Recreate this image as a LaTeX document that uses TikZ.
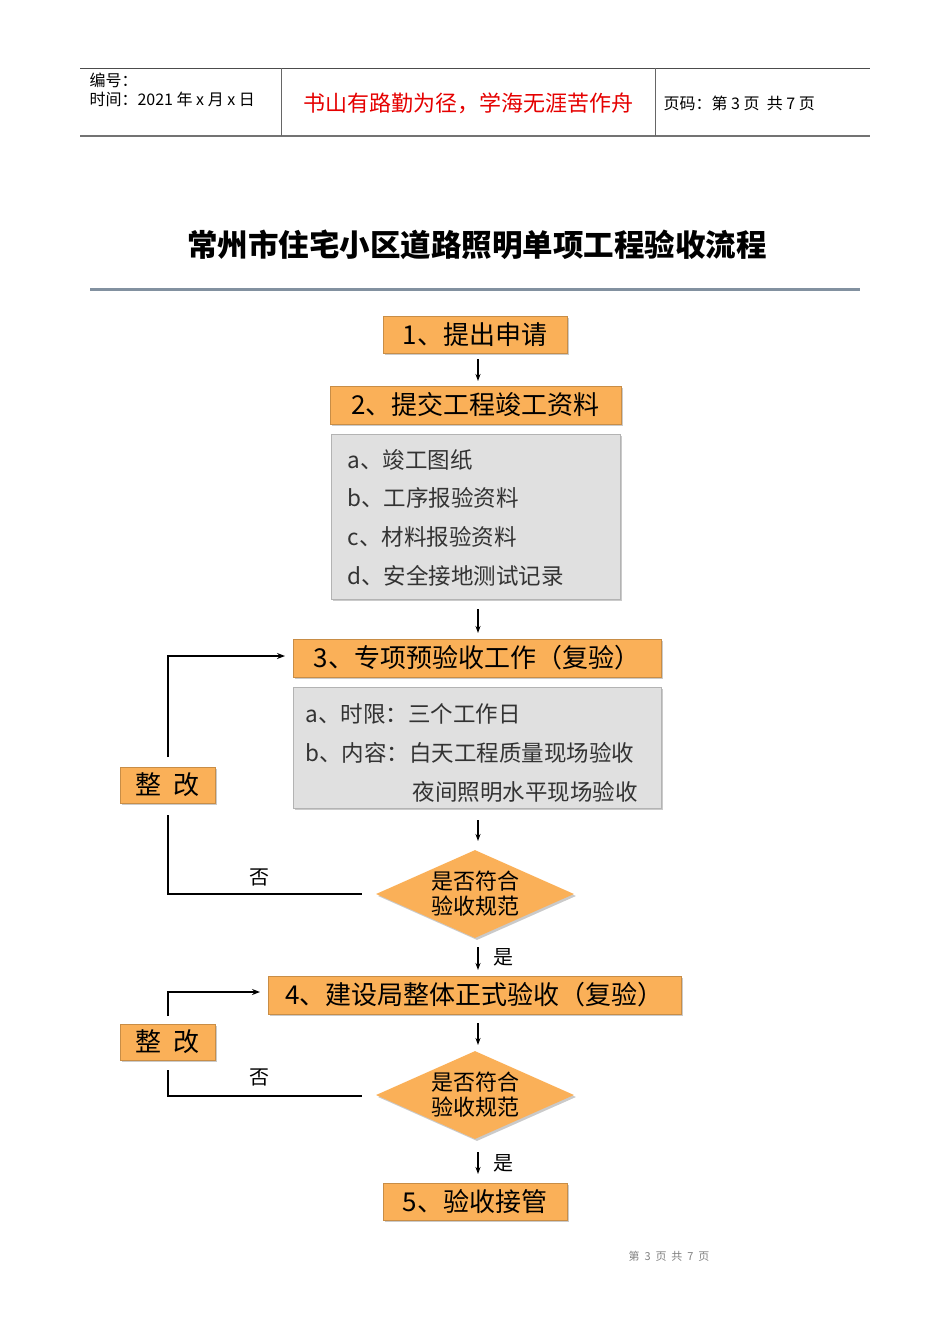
\documentclass[tikz,border=0pt]{standalone}
\usepackage{fontspec}
\setmainfont{Noto Sans CJK SC}
\usetikzlibrary{shapes.geometric,arrows.meta,shadows}
\definecolor{org}{RGB}{250,176,88}
\definecolor{gbox}{RGB}{224,224,224}
\definecolor{rulec}{RGB}{130,145,160}
\begin{document}
\begin{tikzpicture}[x=1pt,y=-1pt,
  ob/.style={draw=org!80!black,line width=0.4pt,fill=org,inner sep=0pt,font=\fontsize{26}{28}\selectfont,drop shadow={shadow xshift=2pt,shadow yshift=-2pt,fill=black!35,opacity=0.6}},
  gb/.style={fill=gbox,draw=gbox!80!black,line width=0.4pt,drop shadow={shadow xshift=2pt,shadow yshift=-2pt,fill=black!35,opacity=0.6}},
  gt/.style={anchor=west,font=\fontsize{22.5}{24}\selectfont,text=black!80},
  dm/.style={diamond,aspect=2.25,fill=org,draw=none,minimum width=198pt,minimum height=88pt,inner sep=0pt,align=center,font=\fontsize{22}{25}\selectfont,drop shadow={shadow xshift=2pt,shadow yshift=-2pt,fill=black!35,opacity=0.6}},
  ar/.style={-{Stealth[length=7pt,width=5pt]},line width=1.2pt},
  ln/.style={line width=1.6pt},
  lb/.style={font=\fontsize{20}{22}\selectfont}]
\useasboundingbox (0,0) rectangle (950,1344);
% header
\draw[line width=0.8pt,black!70] (80,68) -- (870,68);
\draw[line width=1.2pt,black!55] (80,136) -- (870,136);
\draw[line width=0.8pt,black!60] (281,68) -- (281,136);
\draw[line width=0.8pt,black!60] (655,68) -- (655,136);
\node[anchor=west,font=\fontsize{16}{18}\selectfont] (h1) at (86,80) {编号：};
\node[anchor=west,font=\fontsize{16}{18}\selectfont] (h2) at (86,99) {时间：2021 年 x 月 x 日};
\node[font=\fontsize{22}{24}\selectfont,text=red!90!black] (h3) at (468,103) {书山有路勤为径，学海无涯苦作舟};
\node[anchor=west,font=\fontsize{16}{18}\selectfont] (h4) at (660,103) {页码：第 3 页\ \ 共 7 页};
% title
\node[font=\bfseries\fontsize{30.5}{32}\selectfont] (title) at (477,245) {常州市住宅小区道路照明单项工程验收流程};
\draw[line width=3pt,rulec] (90,289) -- (860,289);
% boxes
\node[ob,minimum width=184pt,minimum height=37pt] (b1) at (475,334.5) {1、提出申请};
\node[ob,minimum width=291pt,minimum height=38pt] (b2) at (475.5,405) {2、提交工程竣工资料};
\node[gb,minimum width=289pt,minimum height=165pt,inner sep=0pt] (g1) at (475.5,516.5) {};
\node[gt] (g1a) at (344,460) {a、竣工图纸};
\node[gt] (g1b) at (344,498) {b、工序报验资料};
\node[gt] (g1c) at (344,537) {c、材料报验资料};
\node[gt] (g1d) at (344,576) {d、安全接地测试记录};
\node[ob,minimum width=368pt,minimum height=38pt] (b3) at (477,658) {3、专项预验收工作（复验）};
\node[gb,minimum width=368pt,minimum height=121pt,inner sep=0pt] (g2) at (477,747.5) {};
\node[gt] (g2a) at (302,714) {a、时限：三个工作日};
\node[gt] (g2b) at (302,753) {b、内容：白天工程质量现场验收};
\node[gt] (g2c) at (409,792) {夜间照明水平现场验收};
\node[dm] (d1) at (475,894) {是否符合\\验收规范};
\node[ob,minimum width=95pt,minimum height=36pt] (z1) at (167.5,785) {整\ \ 改};
\node[ob,minimum width=413pt,minimum height=38pt] (b4) at (474.5,995) {4、建设局整体正式验收（复验）};
\node[dm] (d2) at (475,1095) {是否符合\\验收规范};
\node[ob,minimum width=95pt,minimum height=36pt] (z2) at (167.5,1042) {整\ \ 改};
\node[ob,minimum width=184pt,minimum height=37pt] (b5) at (475,1201.5) {5、验收接管};
% arrows
\coordinate (a1s) at (478,359); \coordinate (a1e) at (478,381);
\draw[ar] (a1s) -- (a1e);
\coordinate (a2s) at (478,609); \coordinate (a2e) at (478,633);
\draw[ar] (a2s) -- (a2e);
\coordinate (a3s) at (478,820); \coordinate (a3e) at (478,841);
\draw[ar] (a3s) -- (a3e);
\coordinate (a4s) at (478,947); \coordinate (a4e) at (478,970);
\draw[ar] (a4s) -- (a4e);
\node[lb] (y1) at (503,957) {是};
\coordinate (a5s) at (478,1023); \coordinate (a5e) at (478,1045);
\draw[ar] (a5s) -- (a5e);
\coordinate (a6s) at (478,1152); \coordinate (a6e) at (478,1174);
\draw[ar] (a6s) -- (a6e);
\node[lb] (y2) at (503,1163) {是};
% loops
\coordinate (l1a) at (168,757); \coordinate (l1b) at (285,656);
\draw[ln,-{Stealth[length=8pt,width=6pt]}] (l1a) |- (l1b);
\coordinate (l1c) at (168,815); \coordinate (l1d) at (362,894);
\draw[ln] (l1c) |- (l1d);
\node[lb] (n1) at (259,877) {否};
\coordinate (l2a) at (168,1016); \coordinate (l2b) at (260,992);
\draw[ln,-{Stealth[length=8pt,width=6pt]}] (l2a) |- (l2b);
\coordinate (l2c) at (168,1070); \coordinate (l2d) at (362,1096);
\draw[ln] (l2c) |- (l2d);
\node[lb] (n2) at (259,1077) {否};
% footer
\node[font=\fontsize{11}{12}\selectfont,text=black!50] (ft) at (669,1256) {第\ \ 3\ \ 页\ \ 共\ \ 7\ \ 页};
\end{tikzpicture}
\end{document}
